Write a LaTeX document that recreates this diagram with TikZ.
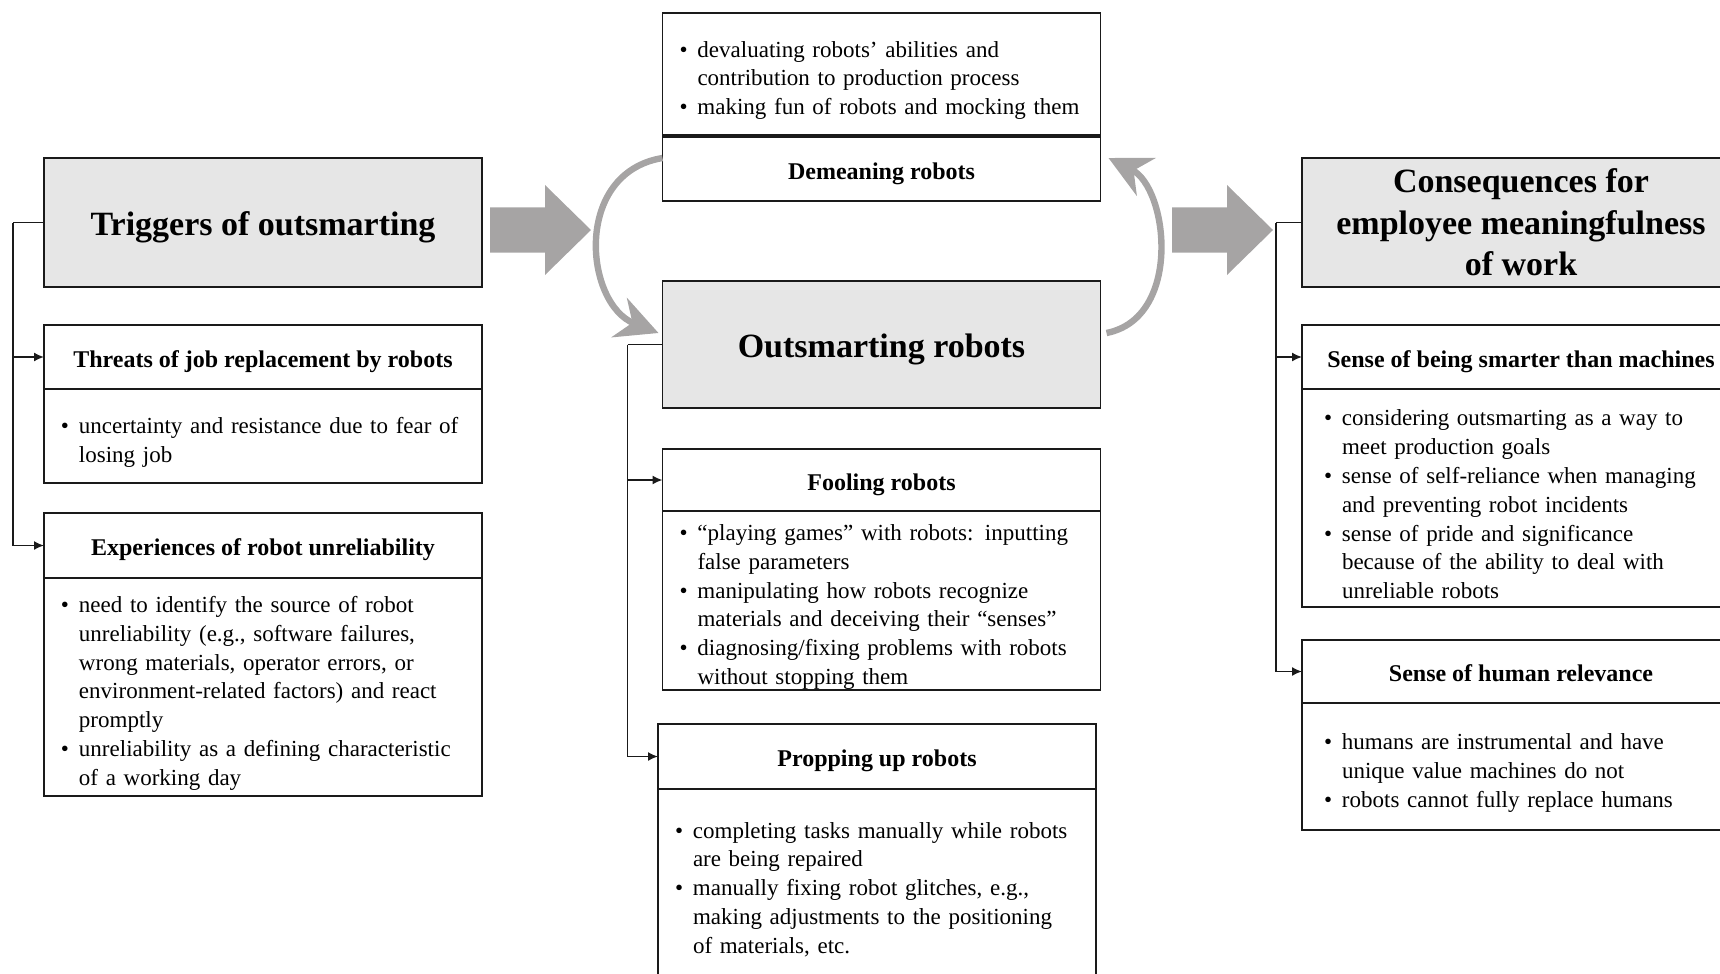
\documentclass[tikz,border=0pt]{standalone}
\usepackage{fontspec}
\setmainfont{Liberation Serif}
\usetikzlibrary{positioning,arrows.meta,calc}
\definecolor{headfill}{HTML}{E6E6E6}
\definecolor{boxline}{HTML}{1A1A1A}
\definecolor{arrowgray}{HTML}{A6A4A4}
\newcommand{\bpt}{\par\global\hangindent=9pt\global\hangafter=1\noindent\makebox[9pt][l]{\textbullet}}
\tikzset{
  frame/.style={draw=boxline, line width=0.9pt, outer sep=0pt, inner sep=0pt,
                align=center, minimum width=219pt},
  head/.style={frame, fill=headfill, minimum height=64.5pt,
               font=\fontsize{17}{20.8}\selectfont\bfseries},
  onehead/.style={head, text height=13.3pt, text depth=0pt},
  ttl/.style={frame, fill=white, minimum height=32pt, text height=10pt, text depth=0pt,
              font=\fontsize{12}{14}\selectfont\bfseries},
  body/.style={frame, fill=white, align=left, inner xsep=8.5pt, text width=202pt,
               font=\fontsize{11.5}{14.4}\selectfont},
  rbody/.style={body, inner xsep=11pt, text width=197pt},
  link/.style={-{Latex[length=5pt,width=4.5pt]}, line width=0.8pt, draw=boxline},
  swirl/.style={-{Stealth[length=21pt,width=21pt,inset=7pt]}, line width=3.2pt, draw=arrowgray},
  bigarrow/.style={fill=arrowgray},
}
\begin{document}
\begin{tikzpicture}[x=0.5pt, y=-0.5pt]
\useasboundingbox (0,0) rectangle (1720,974);
\clip (0,0) rectangle (1720,974);

% ---- triggers, left column ---------------------------------------------------
\node[onehead] (trig) at (263,222.5) {Triggers of outsmarting};
\node[ttl, below=19pt of trig] (thr) {Threats of job replacement by robots};
\node[body, below=0pt of thr, minimum height=47pt] (thrb)
  {\bpt uncertainty and resistance due to fear of\newline losing job};
\node[ttl, below=15pt of thrb, minimum height=32.5pt] (exp) {Experiences of robot unreliability};
\node[body, below=0pt of exp, minimum height=109pt] (expb)
  {\bpt need to identify the source of robot\newline
   unreliability (e.g., software failures,\newline
   wrong materials, operator errors, or\newline
   environment-related factors) and react\newline
   promptly
   \bpt unreliability as a defining characteristic\newline
   of a working day};

% ---- outsmarting, middle column ----------------------------------------------
\node[onehead, minimum height=63.5pt] (outs) at (881.5,344.5) {Outsmarting robots};
\node[ttl, above=40pt of outs] (dem) {Demeaning robots};
\node[body, above=1pt of dem, minimum height=61pt] (demb)
  {\bpt devaluating robots’ abilities and\newline
   contribution to production process
   \bpt making fun of robots and mocking them};
\node[ttl, below=20.5pt of outs, minimum height=31pt] (fool) {Fooling robots};
\node[body, below=0pt of fool, minimum height=89.5pt] (foolb)
  {\bpt “playing games” with robots: inputting\newline
   false parameters
   \bpt manipulating how robots recognize\newline
   materials and deceiving their “senses”
   \bpt diagnosing/fixing problems with robots\newline
   without stopping them};
\node[ttl, below=17pt of foolb, xshift=-2.25pt, minimum height=32.5pt] (prop) {Propping up robots};
\node[body, below=0pt of prop, minimum height=94pt] (propb)
  {\bpt completing tasks manually while robots\newline
   are being repaired
   \bpt manually fixing robot glitches, e.g.,\newline
   making adjustments to the positioning\newline
   of materials, etc.};

% ---- consequences, right column ----------------------------------------------
\node[head] (cons) at (1521,222.5) {Consequences for\\employee meaningfulness\\of work};
\node[ttl, below=19pt of cons] (smart) {Sense of being smarter than machines};
\node[rbody, below=0pt of smart, minimum height=109pt] (smartb)
  {\bpt considering outsmarting as a way to\newline
   meet production goals
   \bpt sense of self-reliance when managing\newline
   and preventing robot incidents
   \bpt sense of pride and significance\newline
   because of the ability to deal with\newline
   unreliable robots};
\node[ttl, below=16.5pt of smartb, minimum height=31.5pt] (hum) {Sense of human relevance};
\node[rbody, below=0pt of hum, minimum height=63.5pt] (humb)
  {\bpt humans are instrumental and have\newline
   unique value machines do not
   \bpt robots cannot fully replace humans};

% ---- block arrows between the columns ----------------------------------------
\coordinate (la) at (490,230);
\coordinate (ra) at (1172,230);
\foreach \a in {la,ra} {
  \fill[bigarrow] ($(\a)+(0,-22.5)$) -- ++(55,0) -- ++(0,-22.5) -- ++(46,45)
    -- ++(-46,45) -- ++(0,-22.5) -- ++(-55,0) -- cycle;
}

% ---- cycle between demeaning and outsmarting ---------------------------------
\draw[swirl] ([yshift=5.5pt]dem.west) .. controls +(-90,15) and +(-74,-29)
  .. ([shift={(-2pt,5.75pt)}]outs.west);
\draw[swirl] ([shift={(3pt,5.75pt)}]outs.east) .. controls +(76,-15) and +(60,30)
  .. ([shift={(4pt,5.5pt)}]dem.east);

% ---- brackets to the sub-boxes ------------------------------------------------
\coordinate (lbus) at ($(trig.west)+(-15.5pt,0)$);
\draw[link, -] (trig.west) -- (lbus);
\foreach \h in {thr,exp} {\draw[link] (lbus) |- (\h.west);}
\coordinate (mbus) at ($(outs.west)+(-17.5pt,0)$);
\draw[link, -] (outs.west) -- (mbus);
\foreach \h in {fool,prop} {\draw[link] (mbus) |- (\h.west);}
\coordinate (rbus) at ($(cons.west)+(-13pt,0)$);
\draw[link, -] (cons.west) -- (rbus);
\foreach \h in {smart,hum} {\draw[link] (rbus) |- (\h.west);}
\end{tikzpicture}
\end{document}
